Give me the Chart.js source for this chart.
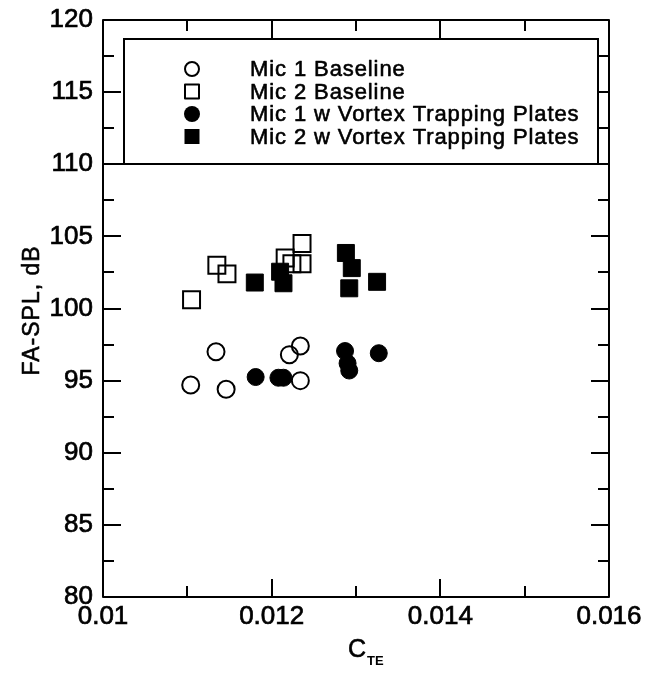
<!DOCTYPE html>
<html>
<head>
<meta charset="utf-8">
<style>
  html, body { margin: 0; padding: 0; background: #fff; }
  canvas { display: block; }
</style>
<script src="https://cdn.jsdelivr.net/npm/chart.js@4.4.1/dist/chart.umd.min.js"></script>
</head>
<body>
<canvas id="c" width="649" height="675"></canvas>
<script>
// ---- Data ----
const seriesNames = ["Mic 1 Baseline", "Mic 2 Baseline", "Mic 1 w Vortex Trapping Plates", "Mic 2 w Vortex Trapping Plates"];

const mic1BaseX = [0.01104, 0.01134, 0.01146, 0.01221, 0.01234, 0.01234];
const mic1BaseY = [94.7, 97.0, 94.4, 96.8, 97.4, 95.0];

const mic2BaseX = [0.01105, 0.01135, 0.01147, 0.01216, 0.01224, 0.01236, 0.01236];
const mic2BaseY = [100.6, 103.0, 102.4, 103.5, 103.1, 103.1, 104.5];

const mic1VtpX = [0.01181, 0.01208, 0.01214, 0.01287, 0.01290, 0.01292, 0.01327];
const mic1VtpY = [95.25, 95.2, 95.2, 97.05, 96.2, 95.7, 96.9];

const mic2VtpX = [0.01180, 0.01210, 0.01214, 0.01288, 0.01295, 0.01292, 0.01325];
const mic2VtpY = [101.8, 102.55, 101.75, 103.85, 102.8, 101.4, 101.85];

const xMajorTicks = [0.01, 0.012, 0.014, 0.016];
const xMinorTicks = [0.011, 0.013, 0.015];
const yMajorTicks = [80, 85, 90, 95, 100, 105, 110, 115, 120];
const yMinorTicks = [82.5, 87.5, 92.5, 97.5, 102.5, 107.5, 112.5, 117.5];
const xTickLabels = ["0.01", "0.012", "0.014", "0.016"];
const yTickLabels = ["80", "85", "90", "95", "100", "105", "110", "115", "120"];
const legendBottomValue = 110;

const xTitleMain = "C";
const xTitleSub = "TE";
const yTitle = "FA-SPL, dB";

function pts(xs, ys) { return xs.map((x, i) => ({ x: x, y: ys[i] })); }

const FONT = "'Liberation Sans', Arial, Helvetica, sans-serif";

function heavyText(ctx, s, x, y, w) {
  ctx.lineWidth = w;
  ctx.strokeStyle = '#000';
  ctx.lineJoin = 'round';
  ctx.strokeText(s, x, y);
  ctx.fillText(s, x, y);
}

const framePlugin = {
  id: 'frame',
  afterDatasetsDraw(chart) {
    const ctx = chart.ctx;
    const xs = chart.scales.x, ys = chart.scales.y;
    const a = chart.chartArea;
    ctx.save();
    ctx.strokeStyle = '#000';
    ctx.lineWidth = 2;
    ctx.lineCap = 'butt';
    // ticks (inward, all four sides)
    const majorLen = 18, minorLen = 11;
    function xt(v, len) {
      const p = Math.round(xs.getPixelForValue(v));
      ctx.beginPath();
      ctx.moveTo(p, a.bottom); ctx.lineTo(p, a.bottom - len);
      ctx.moveTo(p, a.top); ctx.lineTo(p, a.top + len);
      ctx.stroke();
    }
    function yt(v, len) {
      const p = Math.round(ys.getPixelForValue(v));
      ctx.beginPath();
      ctx.moveTo(a.left, p); ctx.lineTo(a.left + len, p);
      ctx.moveTo(a.right, p); ctx.lineTo(a.right - len, p);
      ctx.stroke();
    }
    xMajorTicks.forEach(v => xt(v, majorLen));
    xMinorTicks.forEach(v => xt(v, minorLen));
    yMajorTicks.forEach(v => yt(v, majorLen));
    yMinorTicks.forEach(v => yt(v, minorLen));

    // legend box
    const lb = Math.round(ys.getPixelForValue(legendBottomValue));
    const lx0 = a.left + 21, lx1 = a.right - 11, ly0 = a.top + 19;
    ctx.fillStyle = '#fff';
    ctx.fillRect(lx0, ly0, lx1 - lx0, lb - ly0);
    ctx.strokeRect(lx0, ly0, lx1 - lx0, lb - ly0);
    // full-width line at the legend bottom value
    ctx.beginPath();
    ctx.moveTo(a.left, lb); ctx.lineTo(a.right, lb);
    ctx.stroke();

    // legend entries
    const symX = lx0 + 68, textX = lx0 + 126;
    const rowY = [ly0 + 30, ly0 + 52.5, ly0 + 75, ly0 + 97.5];
    ctx.font = '22px ' + FONT;
    ctx.textBaseline = 'middle';
    ctx.textAlign = 'left';
    try { ctx.letterSpacing = '0.9px'; } catch (e) {}
    seriesNames.forEach((name, i) => {
      const y = rowY[i];
      ctx.lineWidth = 2;
      ctx.fillStyle = '#000';
      if (i === 0) { ctx.beginPath(); ctx.arc(symX, y, 7, 0, Math.PI * 2); ctx.stroke(); }
      if (i === 1) { ctx.strokeRect(symX - 7, y - 7, 14, 14); }
      if (i === 2) { ctx.beginPath(); ctx.arc(symX, y, 8, 0, Math.PI * 2); ctx.fill(); }
      if (i === 3) { ctx.fillRect(symX - 7.5, y - 7.5, 15, 15); }
      heavyText(ctx, name, textX, y + 1, 0.6);
    });

    // outer frame
    ctx.lineWidth = 2;
    ctx.strokeRect(a.left, a.top, a.right - a.left, a.bottom - a.top);

    // axis titles
    try { ctx.letterSpacing = '0px'; } catch (e) {}
    ctx.fillStyle = '#000';
    ctx.textBaseline = 'alphabetic';
    ctx.textAlign = 'left';
    ctx.font = '25px ' + FONT;
    const cx = (a.left + a.right) / 2 - 8;
    heavyText(ctx, xTitleMain, cx, 657, 0.6);
    const cw = ctx.measureText(xTitleMain).width;
    ctx.font = 'bold 13px ' + FONT;
    ctx.fillText(xTitleSub, cx + cw + 1, 665);

    ctx.save();
    ctx.translate(33, (a.top + a.bottom) / 2 + 2);
    ctx.rotate(-Math.PI / 2);
    ctx.font = '23px ' + FONT;
    try { ctx.letterSpacing = '1px'; } catch (e) {}
    ctx.textAlign = 'center';
    ctx.textBaseline = 'middle';
    heavyText(ctx, yTitle, 0, 0, 0.6);
    ctx.restore();
    ctx.restore();
  }
};

const openStyle = { borderColor: '#000', backgroundColor: 'rgba(0,0,0,0)', borderWidth: 2 };
const filledStyle = { borderColor: '#000', backgroundColor: '#000', borderWidth: 1 };

new Chart(document.getElementById('c'), {
  type: 'scatter',
  data: {
    datasets: [
      Object.assign({ label: seriesNames[2], data: pts(mic1VtpX, mic1VtpY), pointStyle: 'circle', pointRadius: 8.5 }, filledStyle),
      Object.assign({ label: seriesNames[3], data: pts(mic2VtpX, mic2VtpY), pointStyle: 'rect', pointRadius: 12 }, filledStyle),
      Object.assign({ label: seriesNames[0], data: pts(mic1BaseX, mic1BaseY), pointStyle: 'circle', pointRadius: 8.5 }, openStyle),
      Object.assign({ label: seriesNames[1], data: pts(mic2BaseX, mic2BaseY), pointStyle: 'rect', pointRadius: 12 }, openStyle)
    ]
  },
  options: {
    responsive: false,
    animation: false,
    devicePixelRatio: 1,
    layout: { padding: { top: 20, right: 40, left: 0, bottom: 0 } },
    plugins: { legend: { display: false }, tooltip: { enabled: false } },
    elements: { point: { hoverRadius: 8.5 } },
    scales: {
      x: {
        type: 'linear',
        min: 0.01, max: 0.016,
        afterBuildTicks: s => { s.ticks = xMajorTicks.map(v => ({ value: v })); },
        afterFit: s => { s.height = 78; s.paddingLeft = 0; s.paddingRight = 0; },
        grid: { display: false, drawTicks: false },
        border: { display: false },
        ticks: {
          color: '#000',
          padding: 4,
          maxRotation: 0,
          autoSkip: false,
          textStrokeColor: '#000',
          textStrokeWidth: 0.7,
          font: { family: FONT, size: 26 },
          callback: (v) => { const i = xMajorTicks.findIndex(t => Math.abs(t - v) < 1e-9); return i >= 0 ? xTickLabels[i] : ''; }
        }
      },
      y: {
        type: 'linear',
        min: 80, max: 120,
        afterBuildTicks: s => { s.ticks = yMajorTicks.map(v => ({ value: v })); },
        afterFit: s => { s.width = 103; s.paddingTop = 0; s.paddingBottom = 0; },
        grid: { display: false, drawTicks: false },
        border: { display: false },
        ticks: {
          color: '#000',
          padding: 10,
          autoSkip: false,
          textStrokeColor: '#000',
          textStrokeWidth: 0.7,
          font: { family: FONT, size: 26 },
          callback: (v) => { const i = yMajorTicks.findIndex(t => Math.abs(t - v) < 1e-9); return i >= 0 ? yTickLabels[i] : ''; }
        }
      }
    }
  },
  plugins: [framePlugin]
});
</script>
</body>
</html>
